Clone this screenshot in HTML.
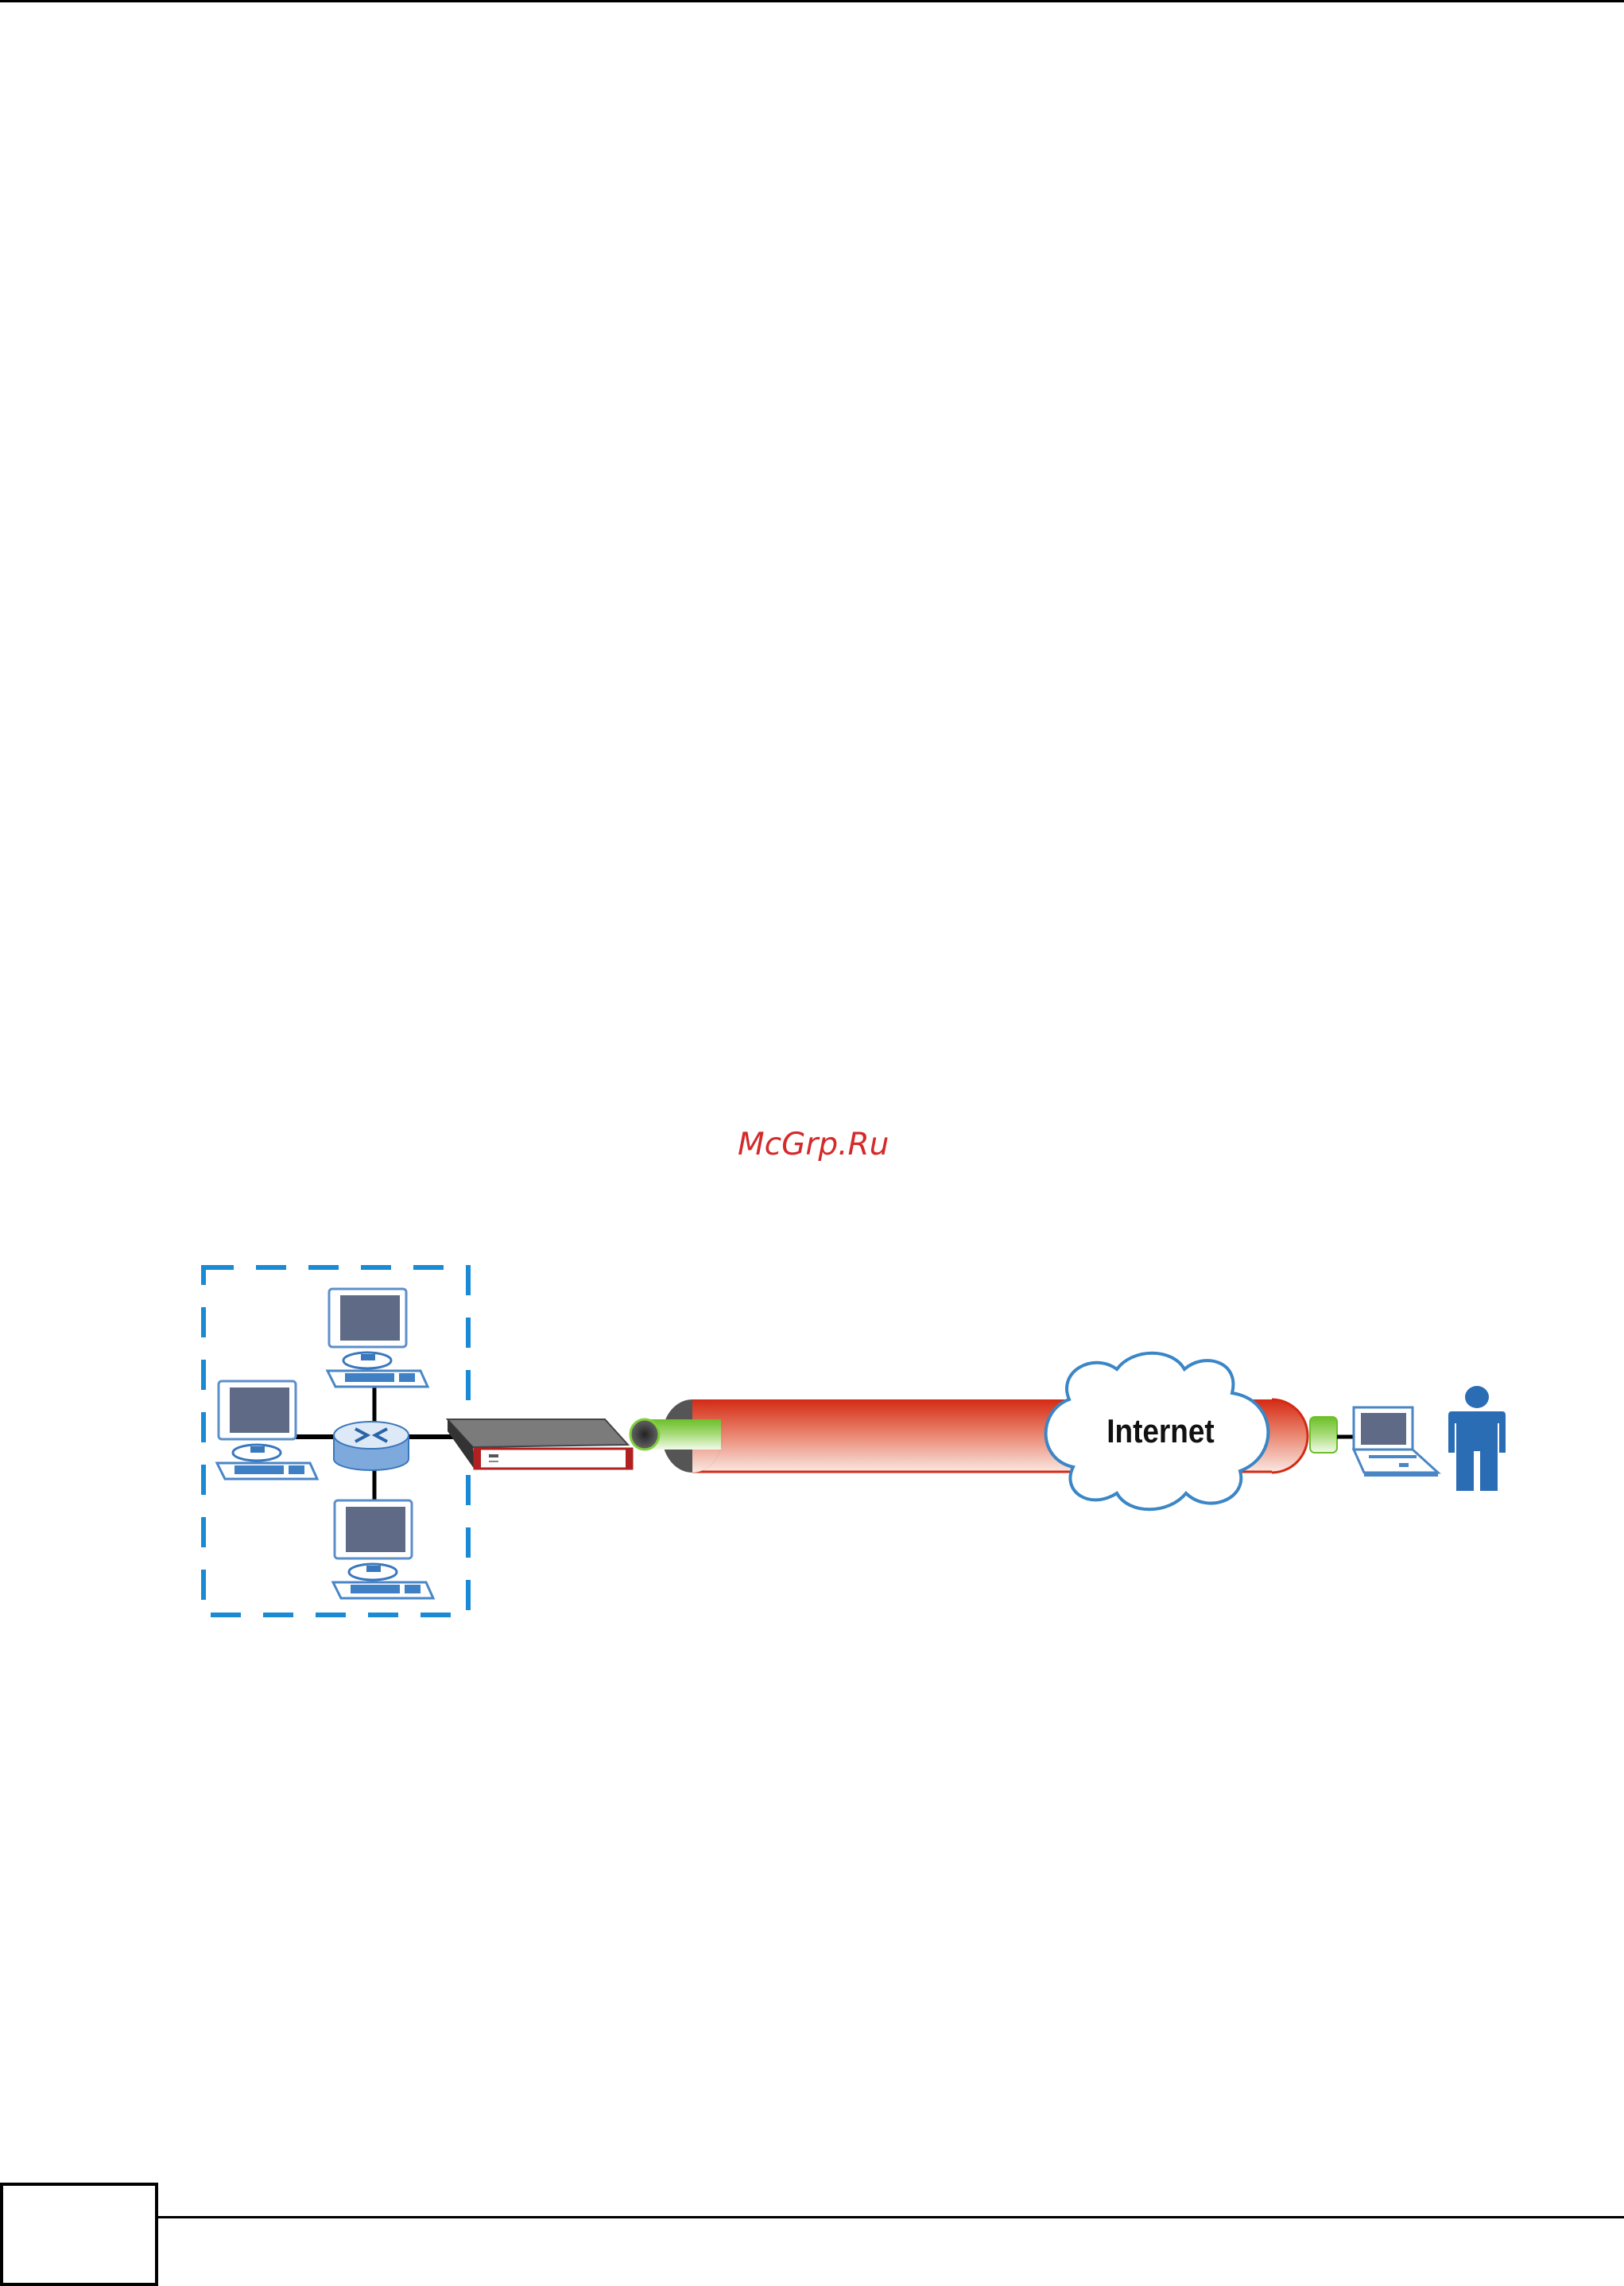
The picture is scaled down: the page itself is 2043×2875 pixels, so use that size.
<!DOCTYPE html>
<html><head><meta charset="utf-8"><style>
html,body{margin:0;padding:0;background:#fff}
body{width:2043px;height:2875px;position:relative;overflow:hidden}
</style></head><body>
<svg width="2043" height="2875" viewBox="0 0 2043 2875" xmlns="http://www.w3.org/2000/svg" style="position:absolute;left:0;top:0">
<defs>
<linearGradient id="red" x1="0" y1="0" x2="0" y2="1">
<stop offset="0" stop-color="#d42a14"/><stop offset="0.45" stop-color="#e8806a"/><stop offset="1" stop-color="#fbe9e4"/>
</linearGradient>
<linearGradient id="grn" x1="0" y1="0" x2="0" y2="1">
<stop offset="0" stop-color="#6cbf2a"/><stop offset="0.5" stop-color="#a8dc7a"/><stop offset="1" stop-color="#f2faea"/>
</linearGradient>
<radialGradient id="hole" cx="0.5" cy="0.5" r="0.5">
<stop offset="0" stop-color="#222"/><stop offset="1" stop-color="#666"/>
</radialGradient>
<g id="pc">
<rect x="0" y="0" width="97" height="73" rx="4" fill="#fff" stroke="#5b8fc9" stroke-width="3"/>
<rect x="14" y="8" width="75" height="57" fill="#5f6b86"/>
<ellipse cx="48" cy="90" rx="30" ry="10" fill="#fff" stroke="#3a78bd" stroke-width="3"/>
<rect x="40" y="82" width="18" height="8" fill="#3a78bd"/>
<polygon points="-2,103 115,103 124,123 8,123" fill="#fff" stroke="#4a86c6" stroke-width="3"/>
<rect x="20" y="106" width="62" height="11" fill="#3f7fc4"/>
<rect x="88" y="106" width="20" height="11" fill="#3f7fc4"/>
</g>
</defs>
<rect x="0" y="0" width="2043" height="3" fill="#000"/>
<text x="928" y="1452" font-family="DejaVu Sans, sans-serif" font-style="oblique" font-size="39" fill="#d42a2a">McGrp.Ru</text>

<rect x="256" y="1594" width="333" height="437" fill="none" stroke="#1a8ad4" stroke-width="6" stroke-dasharray="38,28"/>

<line x1="471" y1="1733" x2="471" y2="1888" stroke="#000" stroke-width="5"/>
<line x1="372" y1="1807" x2="580" y2="1807" stroke="#000" stroke-width="6"/>

<use href="#pc" x="414" y="1621"/>
<use href="#pc" x="275" y="1737"/>
<use href="#pc" x="421" y="1887"/>

<path d="M420,1805 L420,1835 A47,14 0 0 0 514,1835 L514,1805 Z" fill="#7ea9dc" stroke="#3a78bd" stroke-width="2"/>
<ellipse cx="467" cy="1805" rx="47" ry="17" fill="#dde9f7" stroke="#3a78bd" stroke-width="2"/>
<path d="M447,1797 L462,1805 L447,1813 M487,1797 L472,1805 L487,1813" fill="none" stroke="#2a64a8" stroke-width="4"/>

<polygon points="563,1785 761,1785 790,1817 595,1820" fill="#7b7b7b" stroke="#444" stroke-width="2"/>
<polygon points="563,1785 595,1820 597,1848 563,1800" fill="#333"/>
<rect x="597" y="1822" width="198" height="25" fill="#fff" stroke="#b02020" stroke-width="3"/>
<rect x="597" y="1822" width="8" height="25" fill="#b02020"/>
<rect x="787" y="1822" width="8" height="25" fill="#b02020"/>
<rect x="615" y="1829" width="12" height="4" fill="#555"/>
<rect x="615" y="1837" width="12" height="2" fill="#888"/>
<line x1="795" y1="1807" x2="805" y2="1807" stroke="#000" stroke-width="6"/>

<rect x="871" y="1760" width="729" height="92" fill="url(#red)"/>
<line x1="871" y1="1851" x2="1600" y2="1851" stroke="#d42a14" stroke-width="3"/>
<path d="M1600,1760 A45,46 0 0 1 1600,1852" fill="url(#red)" stroke="#d42a14" stroke-width="3"/>
<ellipse cx="871" cy="1806" rx="38" ry="46" fill="#555"/>
<path d="M871,1760 A38,46 0 0 1 871,1852" fill="url(#red)"/>

<rect x="811" y="1785" width="96" height="38" fill="url(#grn)"/>
<ellipse cx="811" cy="1804" rx="18" ry="19" fill="url(#hole)" stroke="#7fd03a" stroke-width="3"/>

<path d="M1345,1760 C1330,1725 1375,1700 1405,1722 C1425,1695 1475,1695 1490,1722 C1515,1700 1560,1712 1550,1752 C1605,1760 1612,1830 1560,1850 C1570,1885 1520,1905 1492,1878 C1470,1905 1420,1905 1405,1878 C1370,1900 1335,1875 1350,1845 C1305,1835 1305,1775 1345,1760 Z" fill="#fff" stroke="#3a86c6" stroke-width="4"/>
<text x="1460" y="1814" text-anchor="middle" font-family="Liberation Sans, sans-serif" font-weight="bold" font-size="42" fill="#111" transform="translate(1460,0) scale(0.88,1) translate(-1460,0)">Internet</text>

<rect x="1648" y="1782" width="34" height="45" rx="6" fill="url(#grn)" stroke="#6cbf2a" stroke-width="2"/>
<line x1="1682" y1="1807" x2="1705" y2="1807" stroke="#000" stroke-width="5"/>

<rect x="1703" y="1770" width="74" height="53" fill="#fff" stroke="#4a86c6" stroke-width="3"/>
<rect x="1712" y="1777" width="57" height="40" fill="#5f6b86"/>
<polygon points="1703,1823 1777,1823 1809,1852 1716,1852" fill="#fff" stroke="#4a86c6" stroke-width="3"/>
<rect x="1722" y="1830" width="60" height="4" fill="#4a86c6"/>
<rect x="1760" y="1840" width="12" height="5" fill="#4a86c6"/>
<rect x="1716" y="1852" width="93" height="5" fill="#4a86c6"/>

<ellipse cx="1858" cy="1757" rx="15" ry="14" fill="#2a6db5"/>
<path d="M1826,1775 L1890,1775 Q1894,1775 1894,1780 L1894,1827 L1886,1827 L1886,1790 L1884,1790 L1884,1875 L1862,1875 L1862,1825 L1854,1825 L1854,1875 L1832,1875 L1832,1790 L1830,1790 L1830,1827 L1822,1827 L1822,1780 Q1822,1775 1826,1775 Z" fill="#2a6db5"/>

<rect x="2" y="2747" width="195" height="126" fill="none" stroke="#000" stroke-width="4"/>
<rect x="199" y="2787" width="1844" height="3" fill="#000"/>
</svg>
</body></html>
